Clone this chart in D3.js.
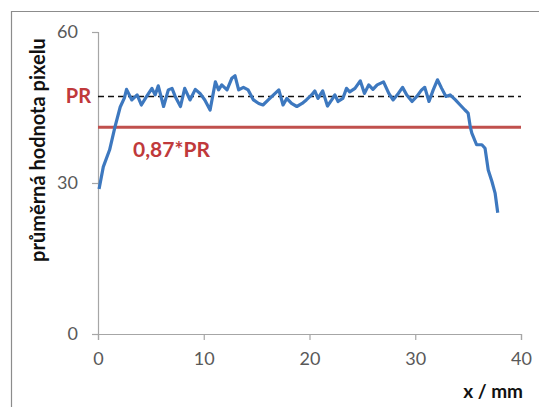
<!DOCTYPE html>
<html>
<head>
<meta charset="utf-8">
<script src="https://cdn.jsdelivr.net/npm/d3@7"></script>
<style>
  body { margin: 0; background: #fff; }
  text { font-family: Lato, "Open Sans", sans-serif; }
</style>
</head>
<body>
<svg id="chart"></svg>
<script>
// profile: x in mm, mean pixel value
const xMm = [0.1, 0.5, 1.1, 1.6, 2.1, 2.5, 2.7, 3.2, 3.7, 4.1, 4.6, 5.1, 5.4, 5.7, 6.2, 6.65, 7.0, 7.3, 7.8, 8.2,
  8.7, 9.2, 9.65, 10.1, 10.6, 11.1, 11.4, 11.7, 12.2, 12.65, 12.96, 13.3, 13.75, 14.2, 14.7, 15.2, 15.6, 16.1, 16.6, 17.1,
  17.5, 17.85, 18.3, 18.8, 19.3, 19.7, 20.2, 20.5, 20.8, 21.25, 21.7, 22.1, 22.4, 22.7, 23.15, 23.5, 23.8, 24.3, 24.8, 25.2,
  25.6, 26.0, 26.4, 27.0, 27.5, 27.9, 28.4, 28.8, 29.2, 29.7, 30.15, 30.6, 30.9, 31.3, 31.7, 32.1, 32.5, 32.9, 33.3, 33.8,
  34.25, 34.7, 35.0, 35.2, 35.35, 35.8, 36.3, 36.6, 36.9, 37.25, 37.55, 37.8]
const pixel = [28.8, 33.2, 36.6, 41.1, 45.1, 46.9, 48.6, 46.5, 47.5, 45.5, 47.2, 48.8, 47.5, 49.3, 45.2, 48.5, 48.8, 47.2, 45.2, 48.8,
  46.5, 48.6, 47.8, 46.5, 44.5, 50.1, 48.5, 49.5, 48.5, 50.8, 51.3, 48.5, 49.0, 48.5, 46.5, 45.8, 45.5, 46.5, 47.5, 48.5,
  45.5, 46.8, 45.8, 45.2, 45.8, 46.5, 47.5, 48.3, 46.8, 48.3, 45.3, 46.5, 47.5, 46.2, 46.8, 48.8, 48.1, 48.8, 50.3, 47.8,
  49.5, 48.6, 49.5, 50.1, 47.8, 46.5, 47.8, 49.0, 47.5, 46.2, 47.2, 48.5, 49.0, 46.2, 48.5, 50.5, 48.8, 47.2, 47.5, 46.5,
  45.5, 44.5, 43.9, 41.2, 39.9, 37.6, 37.6, 36.9, 32.6, 30.3, 28.0, 24.1]
const PR = 47.2
const xTicks = [0, 10, 20, 30, 40]
const yTicks = [0, 30, 60]

const w = 539, h = 407
const svg = d3.select("#chart").attr("width", w).attr("height", h)

svg.append("path")
   .attr("d", "M11.5," + h + "V11.5H" + w)
   .attr("fill", "none").attr("stroke", "#8c8c8c").attr("stroke-width", 1.2)

const xScale = d3.scaleLinear().domain([0, 40]).range([98, 521])
const yScale = d3.scaleLinear().domain([0, 60]).range([334, 32])

const xAxis = d3.axisBottom(xScale).tickValues(xTicks).tickSize(6).tickPadding(12)
const yAxis = d3.axisLeft(yScale).tickValues(yTicks).tickSize(6).tickPadding(14)

const gx = svg.append("g").attr("transform", "translate(0," + yScale(0) + ")").call(xAxis)
const gy = svg.append("g").attr("transform", "translate(" + xScale(0) + ",0)").call(yAxis)
for (const g of [gx, gy]) {
  g.selectAll("path, line").attr("stroke", "#a6a6a6").attr("stroke-width", 1.2)
  g.selectAll("text").attr("fill", "#595959").style("font-size", "18px")
   .style("font-family", "Lato, 'Open Sans', sans-serif")
}

// PR reference and 0.87*PR
svg.append("line")
   .attr("x1", xScale(0)).attr("x2", xScale(40))
   .attr("y1", yScale(PR)).attr("y2", yScale(PR))
   .attr("stroke", "#111").attr("stroke-width", 1.5).attr("stroke-dasharray", "6,4")
svg.append("line")
   .attr("x1", xScale(0)).attr("x2", xScale(40))
   .attr("y1", yScale(0.87 * PR)).attr("y2", yScale(0.87 * PR))
   .attr("stroke", "#c0504d").attr("stroke-width", 3)

const line = d3.line().x((d, i) => xScale(d)).y((d, i) => yScale(pixel[i]))
svg.append("path")
   .attr("d", line(xMm))
   .attr("fill", "none").attr("stroke", "#3d78bf").attr("stroke-width", 3.2)
   .attr("stroke-linejoin", "round")

svg.append("text")
   .attr("x", 91).attr("y", yScale(PR)).attr("dy", "0.35em")
   .attr("text-anchor", "end").attr("fill", "#c0393b")
   .style("font-size", "20px").style("font-weight", "bold").text("PR")
svg.append("text")
   .attr("x", 133).attr("y", 150).attr("dy", "0.35em")
   .attr("fill", "#c0393b")
   .style("font-size", "21px").style("font-weight", "bold").text("0,87*PR")

svg.append("text")
   .attr("transform", "translate(45,150) rotate(-90)")
   .attr("text-anchor", "middle")
   .style("font-size", "20px").style("font-weight", "bold").attr("fill", "#111")
   .text("průměrná hodnota pixelu")
svg.append("text")
   .attr("x", 523).attr("y", 398)
   .attr("text-anchor", "end")
   .style("font-size", "19px").style("font-weight", "bold").attr("fill", "#111")
   .text("x / mm")
</script>
</body>
</html>
